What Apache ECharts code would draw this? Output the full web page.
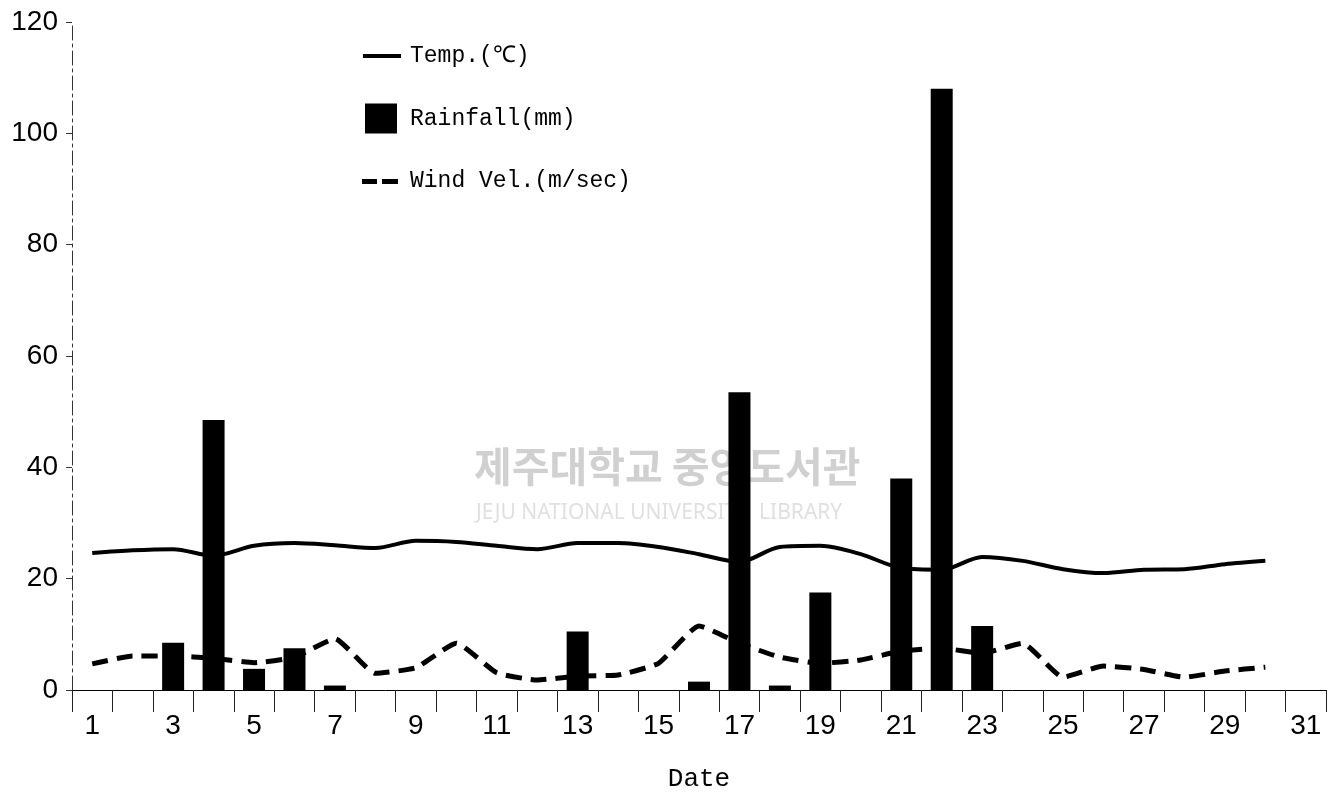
<!DOCTYPE html>
<html>
<head>
<meta charset="utf-8">
<script src="https://cdn.jsdelivr.net/npm/echarts@6/dist/echarts.min.js"></script>
<style>
html,body{margin:0;padding:0;background:#fff;}
#c{width:1336px;height:795px;}
</style>
</head>
<body>
<div id="c"></div>
<script>
// ---- data ----
const days = ['1','2','3','4','5','6','7','8','9','10','11','12','13','14','15','16','17','18','19','20','21','22','23','24','25','26','27','28','29','30','31'];
const rainfall = [0,0,8.5,48.5,3.8,7.5,0.8,0,0,0,0,0,10.5,0,0,1.5,53.5,0.8,17.5,0,38,108,11.5,0,0,0,0,0,0,0,0];
const temperature = [24.6,25.1,25.3,24.1,25.9,26.4,26.0,25.5,26.8,26.6,25.9,25.3,26.4,26.4,25.7,24.4,23.0,25.7,25.9,24.4,21.9,21.6,23.9,23.2,21.7,21.0,21.6,21.7,22.6,23.2];
const windVel = [4.7,6.1,6.1,5.7,4.9,5.9,9.2,3.0,4.0,8.4,3.1,1.8,2.5,2.7,4.8,11.5,8.4,5.9,4.8,5.4,7.0,7.5,6.6,8.4,2.3,4.3,3.7,2.3,3.4,4.1];
const yTicks = [0,20,40,60,80,100,120];

const chart = echarts.init(document.getElementById('c'), null, {renderer:'canvas'});
const speck = 'M0,0h0.01v0.01h-0.01z M40,30h0.01v0.01h-0.01z ';
chart.setOption({
  animation:false,
  backgroundColor:'#fff',
  grid:{left:72,right:10,top:22,bottom:105,containLabel:false,outerBoundsMode:'none'},
  legend:{
    orient:'vertical', left:357, top:36, itemWidth:40, itemHeight:30, itemGap:32.5,
    itemStyle:{borderWidth:0},
    textStyle:{fontFamily:'Liberation Mono', fontSize:23, color:'#000', padding:[0,0,0,3]},
    data:[
      {name:'Temp.(℃)', icon:'path://'+speck+'M1,13h38v4h-38z'},
      {name:'Rainfall(mm)', icon:'path://'+speck+'M3,0h32v30h-32z'},
      {name:'Wind Vel.(m/sec)', icon:'path://'+speck+'M0,13h15v5h-15z M20,13h16v5h-16z'}
    ]
  },
  graphic:[
    {type:'text', left:474, top:446, z:0, silent:true,
     style:{text:'제주대학교 중앙도서관', fontFamily:'Noto Sans CJK KR', fontSize:41, fontWeight:'bold', fill:'#d0d0d0'}},
    {type:'text', left:476, top:503, z:0, silent:true,
     style:{text:'JEJU NATIONAL UNIVERSITY  LIBRARY', fontFamily:'Noto Sans', fontSize:21, fill:'#e0e0e0'}}
  ],
  xAxis:{
    type:'category', data:days, boundaryGap:true,
    name:'Date', nameLocation:'middle', nameGap:76,
    nameTextStyle:{fontFamily:'Liberation Mono', fontSize:26, color:'#000'},
    axisLine:{lineStyle:{color:'#000', width:1}},
    axisTick:{show:true, interval:0, inside:false, length:22, lineStyle:{color:'#222', width:1}},
    axisLabel:{interval:1, margin:22, fontFamily:'Liberation Sans', fontSize:28, color:'#000'},
    splitLine:{show:false}
  },
  yAxis:{
    type:'value', min:0, max:120, interval:20,
    axisLine:{show:true, lineStyle:{color:'#333', width:1, type:[14,4,3,4]}},
    axisTick:{show:true, length:6, lineStyle:{color:'#333'}},
    axisLabel:{margin:14, fontFamily:'Liberation Sans', fontSize:28, color:'#000'},
    splitLine:{show:false}
  },
  series:[
    {name:'Temp.(℃)', type:'line', data:temperature, symbol:'none', smooth:0.3, z:4,
     itemStyle:{color:'#000'}, lineStyle:{color:'#000', width:4}},
    {name:'Rainfall(mm)', type:'bar', data:rainfall, barWidth:22, z:3,
     itemStyle:{color:'#000'}},
    {name:'Wind Vel.(m/sec)', type:'line', data:windVel, symbol:'none', smooth:0.15, z:4,
     itemStyle:{color:'#000'}, lineStyle:{color:'#000', width:5, type:[16,9]}}
  ]
});
</script>
</body>
</html>
